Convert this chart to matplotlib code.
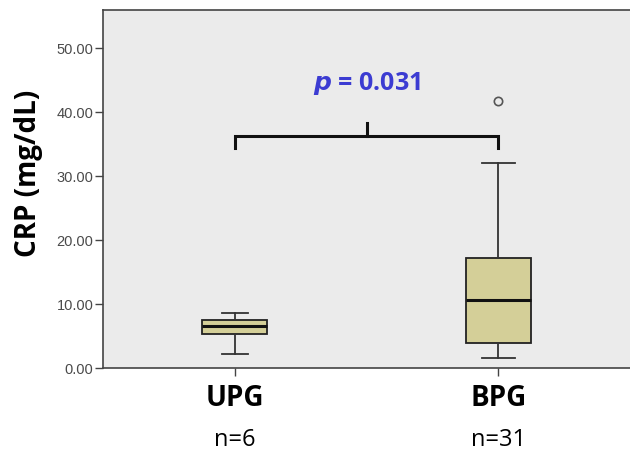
import matplotlib.pyplot as plt

# Box summary values (mg/dL)
groups = ["UPG", "BPG"]
counts = ["n=6", "n=31"]
whislo = [2.2, 1.6]
q1 = [5.3, 3.9]
med = [6.6, 10.6]
q3 = [7.5, 17.2]
whishi = [8.6, 32.0]
outliers = [[], [41.7]]
yticks = [0, 10, 20, 30, 40, 50]
p_text = "$\\mathbfit{p}$ = 0.031"

stats = []
for i, g in enumerate(groups):
    stats.append(dict(label=g, whislo=whislo[i], q1=q1[i], med=med[i],
                      q3=q3[i], whishi=whishi[i], fliers=outliers[i]))

fig = plt.figure(figsize=(6.3, 4.51), dpi=100)
ax = fig.add_axes([103 / 630, 1 - 368 / 451, 527 / 630, 358 / 451])
ax.set_facecolor("#ebebeb")

ax.bxp(stats, positions=[1, 2], widths=0.245, patch_artist=True,
       boxprops=dict(facecolor="#d4cf98", edgecolor="#222222", linewidth=1.3),
       medianprops=dict(color="#111111", linewidth=2.2),
       whiskerprops=dict(color="#333333", linewidth=1.3),
       capprops=dict(color="#333333", linewidth=1.3),
       capwidths=[0.1, 0.125],
       flierprops=dict(marker="o", markersize=6, markerfacecolor="none",
                       markeredgecolor="#555555", markeredgewidth=1.2))

ax.set_xlim(0.5, 2.5)
ax.set_ylim(0, 56)
ax.set_yticks(yticks)
ax.set_yticklabels([f"{v:.2f}" for v in yticks], fontsize=10.5,
                   color="#4a4a4a", family="Liberation Sans")
ax.tick_params(axis="y", length=6, width=1, color="#444444", pad=1)
ax.tick_params(axis="x", length=6, width=1, color="#444444")
ax.set_xticks([1, 2])
ax.set_xticklabels([])

for s in ["left", "top", "bottom"]:
    ax.spines[s].set_color("#444444")
    ax.spines[s].set_linewidth(1.2)
ax.spines["right"].set_visible(False)

ax.set_ylabel("CRP (mg/dL)", fontsize=20, fontweight="bold", family="Open Sans")
ax.yaxis.set_label_coords(-0.142, 0.545)
ax.yaxis.label.set_va("center")

# group names and counts under the axis
for i, g in enumerate(groups):
    ax.annotate(g, xy=(i + 1, 0), xycoords=("data", "axes fraction"),
                xytext=(0, -22), textcoords="offset points", ha="center",
                va="center", fontsize=20, fontweight="bold", family="Open Sans")
    ax.annotate(counts[i], xy=(i + 1, 0), xycoords=("data", "axes fraction"),
                xytext=(0, -52), textcoords="offset points", ha="center",
                va="center", fontsize=17, family="Open Sans")

# significance bracket
ax.plot([1, 1, 2, 2], [34.4, 36.25, 36.25, 34.4], color="#111111",
        linewidth=2.2, solid_joinstyle="miter")
ax.plot([1.5, 1.5], [36.25, 38.4], color="#111111", linewidth=2.2)
ax.text(1.5, 44.5, p_text, ha="center", va="center", fontsize=18,
        fontweight="bold", color="#3c3cd2", family="Open Sans")

fig.savefig("out.png", dpi=100)
